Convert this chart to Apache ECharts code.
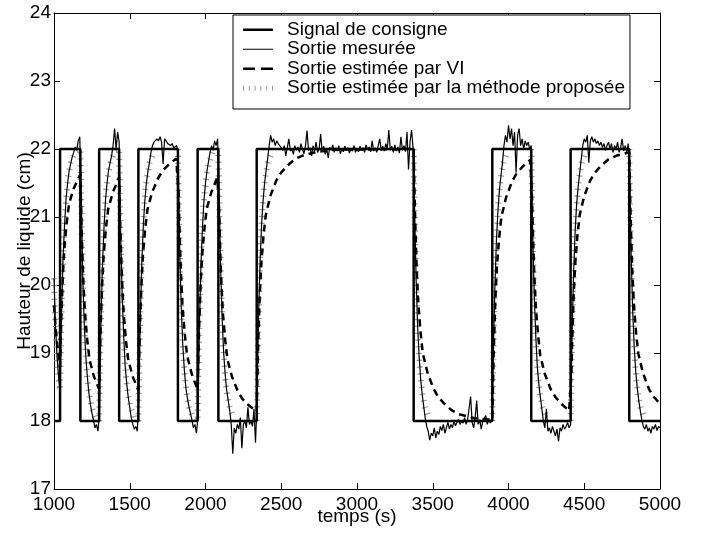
<!DOCTYPE html>
<html>
<head>
<meta charset="utf-8">
<script src="https://cdn.jsdelivr.net/npm/echarts@6/dist/echarts.min.js"></script>
<style>
html, body { margin: 0; padding: 0; background: #fff; }
#chart { width: 705px; height: 535px; }
</style>
</head>
<body>
<div id="chart"></div>
<script>
// axes
const xMin = 1000, xMax = 5000, xPas = 500;
const yMin = 17, yMax = 24, yPas = 1;

// consigne : [instant de commutation, niveau]
const signalConsigne = [
  [1000, 18], [1040, 22], [1174, 18], [1298, 22], [1430, 18], [1557, 22],
  [1818, 18], [1948, 22], [2085, 18], [2338, 22], [3374, 18], [3893, 22],
  [4150, 18], [4410, 22], [4797, 18], [5000, 18]
];

// sortie mesuree, echantillonnee tous les 10 s a partir de 1000 s
const tempsDebut = 1000;
const pasMesure = 10;
const sortieMesuree = [
  20.1, 19.4, 18.95, 18.65, 18.45, 19.6, 20.4, 20.9, 21.28, 21.5,          // 1000
  21.68, 21.78, 21.88, 21.95, 22.03, 21.98, 22.12, 22.18, 21.35, 20.1,     // 1100
  19.4, 18.95, 18.65, 18.42, 18.25, 18.12, 18.02, 17.9, 17.95, 17.85,      // 1200
  18.1, 19.45, 20.3, 20.85, 21.25, 21.5, 21.68, 21.8, 21.9, 22.05,         // 1300
  22.3, 22.0, 22.25, 22.1, 20.75, 19.85, 19.25, 18.8, 18.55, 18.35,        // 1400
  18.2, 18.05, 17.95, 17.88, 17.92, 17.85, 18.35, 19.55, 20.35, 20.9,      // 1500
  21.25, 21.5, 21.67, 21.8, 21.95, 22.05, 22.1, 22.08, 22.15, 22.12,       // 1600
  22.18, 22.1, 21.78, 22.15, 22.12, 22.08, 22.1, 22.05, 22.08, 22.02,      // 1700
  22.0, 22.05, 21.9, 20.48, 19.66, 19.12, 18.76, 18.5, 18.34, 18.22,       // 1800
  18.12, 18.02, 17.9, 17.95, 17.82, 18.05, 19.45, 20.3, 20.85, 21.25,      // 1900
  21.5, 21.68, 21.82, 21.95, 22.05, 21.98, 22.12, 22.05, 22.15, 21.35,     // 2000
  20.25, 19.5, 19.0, 18.68, 18.45, 18.3, 18.15, 17.95, 17.52, 17.9,        // 2100
  17.82, 17.95, 17.88, 18.05, 17.6, 17.95, 18.0, 17.9, 18.2, 17.95,        // 2200
  18.0, 17.92, 18.18, 17.68, 18.25, 19.52, 20.34, 20.88, 21.24, 21.5,      // 2300
  21.68, 21.85, 22.05, 22.2, 22.1, 22.15, 22.05, 22.12, 22.08, 22.1,       // 2400
  22.02, 21.98, 22.05, 21.9, 22.02, 22.15, 21.97, 22.0, 21.92, 22.05,      // 2500
  21.98, 22.03, 21.95, 22.08, 22.0, 21.93, 22.05, 22.27, 21.98, 22.02,     // 2600
  21.9, 22.05, 21.97, 22.1, 21.95, 22.0, 22.22, 21.96, 22.04, 21.92,       // 2700
  22.0, 21.87, 22.03, 21.98, 22.06, 21.95, 22.02, 21.97, 22.05, 21.93,     // 2800
  22.0, 21.96, 22.04, 21.98, 22.02, 21.94, 22.0, 21.97, 22.05, 21.95,      // 2900
  22.01, 21.96, 22.04, 21.98, 22.02, 21.95, 22.06, 21.99, 22.03, 21.96,    // 3000
  22.12, 21.97, 22.02, 21.95, 22.05, 22.15, 21.98, 22.04, 21.97, 22.08,    // 3100
  22.0, 22.28, 21.98, 22.04, 21.95, 22.06, 21.97, 22.03, 21.94, 22.18,     // 3200
  21.98, 22.05, 21.96, 22.25, 21.7, 22.1, 22.28, 22.02, 21.15, 20.1,       // 3300
  19.4, 18.95, 18.62, 18.4, 18.22, 18.05, 17.92, 17.85, 17.72, 17.82,      // 3400
  17.78, 17.9, 17.75, 17.85, 17.8, 17.92, 17.86, 17.95, 17.82, 17.9,       // 3500
  17.98, 17.88, 17.95, 17.9, 18.0, 17.93, 17.98, 18.02, 17.95, 18.0,       // 3600
  17.97, 18.05, 17.95, 18.02, 18.0, 18.36, 17.98, 17.9, 18.05, 18.3,       // 3700
  17.95, 18.02, 17.88, 18.0, 17.98, 18.08, 17.95, 18.02, 17.97, 18.05,     // 3800
  18.98, 19.96, 20.64, 21.08, 21.4, 21.6, 21.8, 22.05, 22.2, 22.1,         // 3900
  22.35, 22.15, 22.3, 22.05, 22.25, 21.65, 22.2, 22.3, 22.05, 22.15,       // 4000
  22.0, 22.12, 22.05, 22.1, 22.0, 22.05, 20.7, 19.85, 19.25, 18.8,         // 4100
  18.55, 18.35, 18.18, 18.0, 17.9, 18.18, 17.85, 17.9, 17.82, 17.92,       // 4200
  17.85, 17.78, 17.88, 17.7, 17.9, 17.85, 17.95, 17.88, 17.92, 17.98,      // 4300
  17.9, 17.95, 19.3, 20.2, 20.8, 21.2, 21.45, 21.65, 21.85, 22.05,         // 4400
  22.15, 22.1, 22.2, 21.8, 22.12, 22.18, 22.1, 22.15, 22.08, 22.12,        // 4500
  22.05, 22.1, 22.02, 22.08, 21.98, 22.05, 22.1, 22.0, 22.08, 21.95,       // 4600
  22.05, 22.0, 22.1, 21.95, 22.02, 22.15, 21.97, 22.05, 21.95, 22.08,      // 4700
  21.6, 20.4, 19.6, 19.08, 18.72, 18.48, 18.3, 18.15, 18.02, 17.92,        // 4800
  17.88, 17.95, 17.85, 17.9, 17.82, 17.92, 17.88, 17.95, 17.86, 17.92,     // 4900
  17.9                                                                     // 5000
];

// sortie estimee par VI : [temps, hauteur]
const sortieVI = [
  [1000, 19.7], [1010, 19.4], [1020, 19.15], [1030, 18.95], [1040, 18.8],
  [1045, 19.25], [1050, 19.63], [1060, 20.21], [1070, 20.59], [1085, 20.94], [1100, 21.2], [1130, 21.42], [1174, 21.63],
  [1179, 21.12], [1184, 20.69], [1194, 20.03], [1204, 19.6], [1219, 19.2], [1234, 18.91], [1264, 18.65], [1298, 18.47],
  [1303, 18.96], [1308, 19.39], [1318, 20.02], [1328, 20.45], [1343, 20.84], [1358, 21.12], [1388, 21.36], [1430, 21.59],
  [1435, 21.09], [1440, 20.66], [1450, 20.01], [1460, 19.58], [1475, 19.18], [1490, 18.9], [1520, 18.65], [1557, 18.45],
  [1562, 18.95], [1567, 19.37], [1577, 20.01], [1587, 20.44], [1602, 20.83], [1617, 21.11], [1647, 21.36], [1687, 21.57],
  [1717, 21.68], [1757, 21.77], [1807, 21.86], [1818, 21.87],
  [1823, 21.33], [1828, 20.86], [1838, 20.17], [1848, 19.7], [1863, 19.28], [1878, 18.97], [1908, 18.7], [1948, 18.46],
  [1953, 18.96], [1958, 19.38], [1968, 20.02], [1978, 20.44], [1993, 20.83], [2008, 21.12], [2038, 21.36], [2078, 21.58], [2085, 21.6],
  [2090, 21.1], [2095, 20.66], [2105, 20.02], [2115, 19.58], [2130, 19.19], [2145, 18.9], [2175, 18.65], [2215, 18.43],
  [2245, 18.32], [2285, 18.23], [2338, 18.14],
  [2343, 18.68], [2348, 19.14], [2358, 19.84], [2368, 20.3], [2383, 20.73], [2398, 21.03], [2428, 21.31], [2468, 21.54],
  [2498, 21.65], [2538, 21.75], [2588, 21.85], [2638, 21.9], [2738, 21.96], [2858, 21.99], [3374, 22.0],
  [3379, 21.44], [3384, 20.96], [3394, 20.24], [3404, 19.76], [3419, 19.32], [3434, 19.0], [3464, 18.72], [3504, 18.48],
  [3534, 18.36], [3574, 18.26], [3624, 18.16], [3674, 18.1], [3774, 18.04], [3893, 18.02],
  [3898, 18.58], [3903, 19.05], [3913, 19.77], [3923, 20.25], [3938, 20.69], [3953, 21.0], [3983, 21.28], [4023, 21.52],
  [4053, 21.64], [4093, 21.74], [4143, 21.84], [4150, 21.85],
  [4155, 21.31], [4160, 20.85], [4170, 20.16], [4180, 19.69], [4195, 19.27], [4210, 18.96], [4240, 18.69], [4280, 18.46],
  [4310, 18.35], [4350, 18.25], [4400, 18.15], [4410, 18.14],
  [4415, 18.68], [4420, 19.14], [4430, 19.84], [4440, 20.3], [4455, 20.73], [4470, 21.03], [4500, 21.31], [4540, 21.54],
  [4570, 21.65], [4610, 21.75], [4660, 21.85], [4710, 21.9], [4797, 21.95],
  [4802, 21.4], [4807, 20.92], [4817, 20.21], [4827, 19.74], [4842, 19.3], [4857, 18.99], [4887, 18.71], [4927, 18.47],
  [4957, 18.36], [4997, 18.26], [5000, 18.25]
];

// sortie estimee par la methode proposee : [temps, hauteur]
// (null = palier cache sous la mesure, non trace)
const sortieProposee = [
  [1000, 20.1], [1003, 19.8], [1006, 19.6], [1010, 19.4], [1013, 19.2], [1018, 19.0], [1024, 18.8], [1031, 18.6], [1040, 18.45],
  [1041, 18.6], [1043, 18.8], [1045, 19.0], [1046, 19.2], [1048, 19.4], [1050, 19.6], [1052, 19.8], [1055, 20.0], [1057, 20.2],
  [1060, 20.4], [1064, 20.6], [1068, 20.8], [1072, 21.0], [1078, 21.2], [1085, 21.4], [1095, 21.6], [1112, 21.8], [1130, 21.9], [1150, 21.97],
  [1174, 22.0], [1175, 21.8], [1177, 21.6], [1178, 21.4], [1180, 21.2], [1181, 21.0], [1183, 20.8], [1185, 20.6], [1187, 20.4],
  [1189, 20.2], [1191, 20.0], [1194, 19.8], [1197, 19.6], [1200, 19.4], [1204, 19.2], [1209, 19.0], [1214, 18.8], [1221, 18.6],
  [1232, 18.4], [1249, 18.2], [1274, 18.05],
  [1298, 18.0], [1299, 18.2], [1301, 18.4], [1302, 18.6], [1304, 18.8], [1305, 19.0], [1307, 19.2], [1309, 19.4], [1311, 19.6],
  [1313, 19.8], [1315, 20.0], [1318, 20.2], [1321, 20.4], [1324, 20.6], [1328, 20.8], [1333, 21.0], [1338, 21.2], [1345, 21.4],
  [1356, 21.6], [1373, 21.8], [1398, 21.95],
  [1430, 22.0], [1431, 21.8], [1433, 21.6], [1434, 21.4], [1436, 21.2], [1437, 21.0], [1439, 20.8], [1441, 20.6], [1443, 20.4],
  [1445, 20.2], [1447, 20.0], [1450, 19.8], [1453, 19.6], [1456, 19.4], [1460, 19.2], [1465, 19.0], [1470, 18.8], [1477, 18.6],
  [1488, 18.4], [1505, 18.2], [1530, 18.05],
  [1557, 18.0], [1558, 18.2], [1560, 18.4], [1561, 18.6], [1563, 18.8], [1564, 19.0], [1566, 19.2], [1568, 19.4], [1570, 19.6],
  [1572, 19.8], [1574, 20.0], [1577, 20.2], [1580, 20.4], [1583, 20.6], [1587, 20.8], [1592, 21.0], [1597, 21.2], [1604, 21.4],
  [1615, 21.6], [1632, 21.8], [1657, 21.95], [1700, null],
  [1818, 22.0], [1819, 21.8], [1821, 21.6], [1822, 21.4], [1824, 21.2], [1825, 21.0], [1827, 20.8], [1829, 20.6], [1831, 20.4],
  [1833, 20.2], [1835, 20.0], [1838, 19.8], [1841, 19.6], [1844, 19.4], [1848, 19.2], [1853, 19.0], [1858, 18.8], [1865, 18.6],
  [1876, 18.4], [1893, 18.2], [1918, 18.05],
  [1948, 18.0], [1949, 18.2], [1951, 18.4], [1952, 18.6], [1954, 18.8], [1955, 19.0], [1957, 19.2], [1959, 19.4], [1961, 19.6],
  [1963, 19.8], [1965, 20.0], [1968, 20.2], [1971, 20.4], [1974, 20.6], [1978, 20.8], [1983, 21.0], [1988, 21.2], [1995, 21.4],
  [2006, 21.6], [2023, 21.8], [2048, 21.95],
  [2085, 22.0], [2086, 21.8], [2088, 21.6], [2089, 21.4], [2091, 21.2], [2092, 21.0], [2094, 20.8], [2096, 20.6], [2098, 20.4],
  [2100, 20.2], [2102, 20.0], [2105, 19.8], [2108, 19.6], [2111, 19.4], [2115, 19.2], [2120, 19.0], [2125, 18.8], [2132, 18.6],
  [2143, 18.4], [2160, 18.2], [2185, 18.05], [2250, null],
  [2338, 18.0], [2339, 18.2], [2341, 18.4], [2342, 18.6], [2344, 18.8], [2345, 19.0], [2347, 19.2], [2349, 19.4], [2351, 19.6],
  [2353, 19.8], [2355, 20.0], [2358, 20.2], [2361, 20.4], [2364, 20.6], [2368, 20.8], [2373, 21.0], [2378, 21.2], [2385, 21.4],
  [2396, 21.6], [2413, 21.8], [2438, 21.95], [2900, null],
  [3374, 22.0], [3375, 21.8], [3377, 21.6], [3378, 21.4], [3380, 21.2], [3381, 21.0], [3383, 20.8], [3385, 20.6], [3387, 20.4],
  [3389, 20.2], [3391, 20.0], [3394, 19.8], [3397, 19.6], [3400, 19.4], [3404, 19.2], [3409, 19.0], [3414, 18.8], [3421, 18.6],
  [3432, 18.4], [3449, 18.2], [3474, 18.05], [3700, null],
  [3893, 18.0], [3894, 18.2], [3896, 18.4], [3897, 18.6], [3899, 18.8], [3900, 19.0], [3902, 19.2], [3904, 19.4], [3906, 19.6],
  [3908, 19.8], [3910, 20.0], [3913, 20.2], [3916, 20.4], [3919, 20.6], [3923, 20.8], [3928, 21.0], [3933, 21.2], [3940, 21.4],
  [3951, 21.6], [3968, 21.8], [3993, 21.95], [4100, null],
  [4150, 22.0], [4151, 21.8], [4153, 21.6], [4154, 21.4], [4156, 21.2], [4157, 21.0], [4159, 20.8], [4161, 20.6], [4163, 20.4],
  [4165, 20.2], [4167, 20.0], [4170, 19.8], [4173, 19.6], [4176, 19.4], [4180, 19.2], [4185, 19.0], [4190, 18.8], [4197, 18.6],
  [4208, 18.4], [4225, 18.2], [4250, 18.05], [4330, null],
  [4410, 18.0], [4411, 18.2], [4413, 18.4], [4414, 18.6], [4416, 18.8], [4417, 19.0], [4419, 19.2], [4421, 19.4], [4423, 19.6],
  [4425, 19.8], [4427, 20.0], [4430, 20.2], [4433, 20.4], [4436, 20.6], [4440, 20.8], [4445, 21.0], [4450, 21.2], [4457, 21.4],
  [4468, 21.6], [4485, 21.8], [4510, 21.95], [4650, null],
  [4797, 22.0], [4798, 21.8], [4800, 21.6], [4801, 21.4], [4803, 21.2], [4804, 21.0], [4806, 20.8], [4808, 20.6], [4810, 20.4],
  [4812, 20.2], [4814, 20.0], [4817, 19.8], [4820, 19.6], [4823, 19.4], [4827, 19.2], [4832, 19.0], [4837, 18.8], [4844, 18.6],
  [4855, 18.4], [4872, 18.2], [4897, 18.05]
];

const police = "'Liberation Sans', Arial, Helvetica, sans-serif";
const taille = 19;
const gris = '#9a9a9a';

const mesureeXY = sortieMesuree.map((v, i) => [tempsDebut + i * pasMesure, v]);

let myChart = echarts.init(document.getElementById('chart'));

// axe commun : traits interieurs, cadre noir
function axeX(pos, labels) {
  return {
    type: 'value', position: pos, min: xMin, max: xMax, interval: xPas,
    axisLine: { show: true, onZero: false, lineStyle: { color: '#000', width: 1 } },
    axisTick: { show: true, inside: true, length: 6, lineStyle: { color: '#000' } },
    axisLabel: { show: labels, margin: 6, color: '#000', fontSize: taille, fontFamily: police,
                 formatter: v => String(v) },
    splitLine: { show: false }
  };
}
function axeY(pos, labels) {
  return {
    type: 'value', position: pos, min: yMin, max: yMax, interval: yPas,
    axisLine: { show: true, onZero: false, lineStyle: { color: '#000', width: 1 } },
    axisTick: { show: true, inside: true, length: 6, lineStyle: { color: '#000' } },
    axisLabel: { show: labels, margin: 3, color: '#000', fontSize: taille, fontFamily: police },
    splitLine: { show: false }
  };
}

const xBas = axeX('bottom', true);
xBas.name = 'temps (s)';
xBas.nameLocation = 'middle';
xBas.nameGap = 18;
xBas.nameMoveOverlap = false;
xBas.nameTextStyle = { color: '#000', fontSize: taille, fontFamily: police };

const yGauche = axeY('left', true);
yGauche.name = 'Hauteur de liquide (cm)';
yGauche.nameLocation = 'middle';
yGauche.nameGap = 20;
yGauche.nameMoveOverlap = false;
yGauche.nameTextStyle = { color: '#000', fontSize: taille, fontFamily: police };

myChart.setOption({
  animation: false,
  backgroundColor: '#fff',
  grid: { left: 54, right: 45, top: 13, bottom: 46, outerBoundsMode: 'none', containLabel: false },
  xAxis: [xBas, axeX('top', false)],
  yAxis: [yGauche, axeY('right', false)],
  legend: {
    left: 233, top: 15,
    orient: 'vertical',
    selectedMode: false,
    backgroundColor: '#fff',
    borderColor: '#000',
    borderWidth: 1,
    padding: [5, 5, 11, 10],
    itemWidth: 30,
    itemHeight: 6,
    itemGap: 0,
    textStyle: { color: '#000', fontSize: taille, fontFamily: police, lineHeight: 19.5, padding: [0, 0, 0, 9] },
    data: [
      { name: 'Signal de consigne', icon: 'path://M0,0H30V2.5H0Z', itemStyle: { color: '#000' } },
      { name: 'Sortie mesurée', icon: 'path://M0,0H30V1H0Z', itemStyle: { color: '#000' } },
      { name: 'Sortie estimée par VI', icon: 'path://M0,0H12V2.5H0ZM18,0H30V2.5H18Z', itemStyle: { color: '#000' } },
      { name: 'Sortie estimée par la méthode proposée',
        icon: 'path://M0,0H1V5H0ZM5.8,0H6.8V5H5.8ZM11.6,0H12.6V5H11.6ZM17.4,0H18.4V5H17.4ZM23.2,0H24.2V5H23.2ZM29,0H30V5H29Z',
        itemStyle: { color: gris } }
    ]
  },
  series: [
    {
      // trait epais en pointilles : donne les petites graduations grises
      name: 'Sortie estimée par la méthode proposée', type: 'line',
      data: sortieProposee, symbol: 'none', silent: true, connectNulls: false,
      itemStyle: { color: gris },
      lineStyle: { color: gris, width: 6, type: [1.2, 5.6] }
    },
    {
      name: 'Signal de consigne', type: 'line', step: 'end',
      data: signalConsigne, symbol: 'none', silent: true,
      itemStyle: { color: '#000' },
      lineStyle: { color: '#000', width: 2.5 }
    },
    {
      name: 'Sortie mesurée', type: 'line',
      data: mesureeXY, symbol: 'none', silent: true,
      itemStyle: { color: '#000' },
      lineStyle: { color: '#000', width: 1.2 }
    },
    {
      name: 'Sortie estimée par VI', type: 'line',
      data: sortieVI, symbol: 'none', silent: true,
      itemStyle: { color: '#000' },
      lineStyle: { color: '#000', width: 2.5, type: [7, 5] }
    }
  ]
});
</script>
</body>
</html>
